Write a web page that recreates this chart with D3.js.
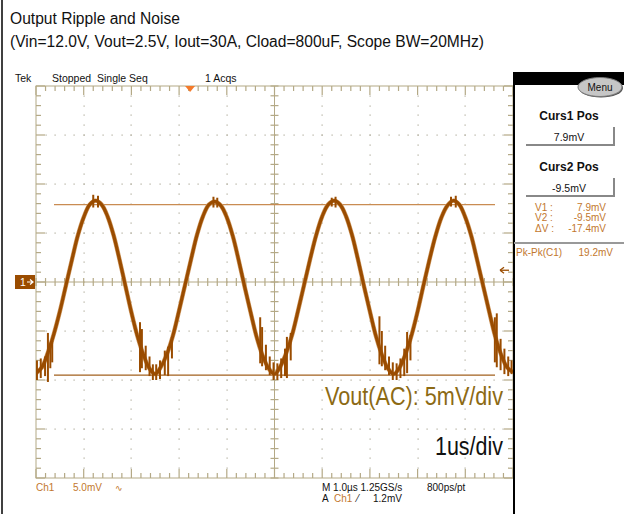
<!DOCTYPE html>
<html>
<head>
<meta charset="utf-8">
<script src="https://cdn.jsdelivr.net/npm/d3@7"></script>
<style>
body { margin: 0; background: #fff; }
svg { display: block; font-family: "Liberation Sans", Arial, sans-serif; }
</style>
</head>
<body>
<div id="chart"></div>
<script>
var titleLines = ["Output Ripple and Noise", "(Vin=12.0V, Vout=2.5V, Iout=30A, Cload=800uF, Scope BW=20MHz)"];
var sampleStepUs = 0.125;   // one sample every 1/8 us, 0..10 us
var rippleMv = [
  -9.3, -8.7, -7.2, -5.3, -3.0, -0.4, 2.2, 4.7, 6.6, 7.9, 8.3, 7.9, 6.7, 4.8, 2.3, -0.4, -3.1, -5.5, -7.4, -8.8,
  -9.4, -8.6, -7.3, -5.4, -2.9, -0.3, 2.3, 4.8, 6.7, 7.9, 8.2, 7.8, 6.6, 4.7, 2.2, -0.5, -3.1, -5.6, -7.5, -8.8,
  -9.4, -8.6, -7.2, -5.3, -2.8, -0.2, 2.4, 4.8, 6.7, 7.9, 8.3, 7.9, 6.7, 4.8, 2.3, -0.4, -3.0, -5.5, -7.4, -8.8,
  -9.4, -8.7, -7.3, -5.4, -3.0, -0.3, 2.3, 4.7, 6.6, 7.8, 8.3, 7.9, 6.6, 4.7, 2.2, -0.4, -3.0, -5.5, -7.4, -8.7,
  -9.2
];
// switching noise spikes: time (us), low / high (mV)
var spikeUs     = [0.02, 0.10, 0.19, 0.25, 0.30, 0.34, 1.20, 1.30, 2.18, 2.22, 2.30, 2.38, 2.45, 2.52, 2.60, 2.70, 2.77, 2.85,
                   3.72, 3.80, 4.70, 4.74, 4.82, 4.90, 4.98, 5.06, 5.14, 5.22, 5.26, 5.34, 6.20, 6.28,
                   7.20, 7.25, 7.32, 7.40, 7.48, 7.56, 7.64, 7.72, 7.78, 7.85, 8.70, 8.80, 9.62, 9.66, 9.74, 9.82, 9.90, 9.97];
var spikeLowMv  = [-10.0, -9.8, -9.6, -10.2, -8.8, -8.2, 7.6, 7.6, -9.2, -8.8, -9.0, -9.6, -10.0, -10.0, -9.9, -9.5, -9.6, -7.8,
                   7.6, 7.6, -8.3, -8.6, -9.0, -9.5, -10.0, -10.0, -9.8, -9.6, -9.8, -8.0, 7.7, 7.6,
                   -8.4, -8.6, -9.0, -9.5, -10.0, -10.0, -9.8, -9.6, -9.3, -8.0, 7.7, 7.6, -8.2, -8.7, -9.0, -9.4, -9.6, -9.4];
var spikeHighMv = [-8.0, -7.8, -7.6, -5.2, -6.2, -6.0, 8.9, 8.8, -4.1, -4.8, -6.5, -7.6, -8.4, -8.4, -8.0, -7.0, -6.6, -5.6,
                   8.7, 8.6, -3.6, -4.6, -6.4, -7.6, -8.2, -8.3, -7.8, -6.8, -5.6, -5.2, 8.6, 8.7,
                   -3.5, -5.0, -6.5, -7.6, -8.2, -8.3, -7.8, -6.8, -5.1, -5.4, 8.7, 8.8, -3.6, -3.2, -5.8, -6.8, -7.6, -8.0];
var cursorMv = [7.9, -9.5];
var cursorNames = ["Curs1 Pos", "Curs2 Pos"];
var cursorTexts = ["7.9mV", "-9.5mV"];
var readoutNames = ["V1 :", "V2 :", "\u0394V :"];
var readoutValues = ["7.9mV", "-9.5mV", "-17.4mV"];
var measureName = "Pk-Pk(C1)", measureValue = "19.2mV";
var triggerMv = 1.2, triggerUs = 3.23;
var timeDivs = 10, voltDivs = 8, mvPerDiv = 5;

// ---- layout ----
var W = 635, H = 514;
var gx0 = 36, gx1 = 513, gy0 = 86, gy1 = 478;
var brown = "#9a4c00", grat = "#b4a986", orange = "#c2772e";

var svg = d3.select("#chart").append("svg").attr("width", W).attr("height", H);
svg.append("rect").attr("width", W).attr("height", H).attr("fill", "#fff");

var x = d3.scaleLinear().domain([0, timeDivs]).range([gx0, gx1]);
var y = d3.scaleLinear().domain([-voltDivs / 2 * mvPerDiv, voltDivs / 2 * mvPerDiv]).range([gy1, gy0]);

// outer frame line on the left
svg.append("line").attr("x1", 2).attr("x2", 2).attr("y1", 0).attr("y2", H).attr("stroke", "#000").attr("stroke-width", 1.5);

// title
svg.selectAll("text.title").data(titleLines).enter().append("text")
    .attr("class", "title")
    .attr("x", 10).attr("y", function (d, i) { return 24 + i * 23; })
    .attr("font-size", 15.6).attr("fill", "#111")
    .text(function (d) { return d; });

// header status
var hdr = svg.append("g").attr("font-size", 10.5).attr("fill", "#111");
hdr.append("text").attr("x", 15).attr("y", 82).text("Tek");
hdr.append("text").attr("x", 52).attr("y", 82).attr("xml:space", "preserve").text("Stopped  Single Seq");
hdr.append("text").attr("x", 205).attr("y", 82).text("1 Acqs");

// ---- graticule ----
var g = svg.append("g");
g.append("rect").attr("x", gx0).attr("y", gy0).attr("width", gx1 - gx0).attr("height", gy1 - gy0)
    .attr("fill", "none").attr("stroke", grat);

var minorT = d3.range(0, timeDivs + 0.001, 0.2);
var minorV = d3.range(-20, 20.001, 1);

// dotted division lines
var dots = [];
d3.range(1, timeDivs).forEach(function (i) {
    if (i === timeDivs / 2) return;
    minorV.forEach(function (v) { if (Math.abs(v) < 20) dots.push([x(i), y(v)]); });
});
[-15, -10, -5, 5, 10, 15].forEach(function (v) {
    minorT.forEach(function (t) { if (t > 0.01 && t < timeDivs - 0.01) dots.push([x(t), y(v)]); });
});
g.selectAll("rect.dot").data(dots).enter().append("rect")
    .attr("class", "dot")
    .attr("x", function (d) { return Math.round(d[0]) - 0.5; })
    .attr("y", function (d) { return Math.round(d[1]) - 0.5; })
    .attr("width", 1.2).attr("height", 1.2).attr("fill", "#b0ab9c");

// centre axes
g.append("line").attr("x1", gx0).attr("x2", gx1).attr("y1", y(0)).attr("y2", y(0)).attr("stroke", grat);
g.append("line").attr("x1", x(5)).attr("x2", x(5)).attr("y1", gy0).attr("y2", gy1).attr("stroke", grat);

function isMajor(v, step) { return Math.abs(v / step - Math.round(v / step)) < 1e-6; }

var ticks = [];
minorT.forEach(function (t) {
    var len = isMajor(t, 1) ? 9 : 5;
    ticks.push([x(t), gy0, x(t), gy0 + len]);
    ticks.push([x(t), gy1, x(t), gy1 - len]);
    ticks.push([x(t), y(0) - 4, x(t), y(0) + 4]);
});
minorV.forEach(function (v) {
    var len = isMajor(v, 5) ? 9 : 5;
    ticks.push([gx0, y(v), gx0 + len, y(v)]);
    ticks.push([gx1, y(v), gx1 - len, y(v)]);
    ticks.push([x(5) - 4, y(v), x(5) + 4, y(v)]);
});
g.selectAll("line.tick").data(ticks).enter().append("line")
    .attr("class", "tick")
    .attr("x1", function (d) { return d[0]; }).attr("y1", function (d) { return d[1]; })
    .attr("x2", function (d) { return d[2]; }).attr("y2", function (d) { return d[3]; })
    .attr("stroke", grat).attr("stroke-width", 1.2);

// ---- cursors ----
var cursorColors = ["#c98c52", "#a2601e"];
svg.selectAll("line.cursor").data(cursorMv).enter().append("line")
    .attr("class", "cursor")
    .attr("x1", 54).attr("x2", 495)
    .attr("y1", function (d) { return y(d); }).attr("y2", function (d) { return y(d); })
    .attr("stroke", function (d, i) { return cursorColors[i]; }).attr("stroke-width", 1.4);

// ---- waveform ----
svg.append("clipPath").attr("id", "clip").append("rect")
    .attr("x", gx0).attr("y", gy0).attr("width", gx1 - gx0).attr("height", gy1 - gy0);
var wave = svg.append("g").attr("clip-path", "url(#clip)");

var line = d3.line()
    .x(function (d, i) { return x(i * sampleStepUs); })
    .y(function (d) { return y(d); })
    .curve(d3.curveCatmullRom);

wave.append("path").datum(rippleMv)
    .attr("d", line).attr("fill", "none")
    .attr("stroke", "#cf9a62").attr("stroke-width", 4.4).attr("stroke-linejoin", "round");
wave.append("path").datum(rippleMv)
    .attr("d", line).attr("fill", "none")
    .attr("stroke", brown).attr("stroke-width", 3.2).attr("stroke-linejoin", "round");

wave.selectAll("line.spike").data(spikeUs).enter().append("line")
    .attr("class", "spike")
    .attr("x1", function (d) { return x(d); }).attr("x2", function (d) { return x(d); })
    .attr("y1", function (d, i) { return y(spikeLowMv[i]); })
    .attr("y2", function (d, i) { return y(spikeHighMv[i]); })
    .attr("stroke", brown).attr("stroke-width", 2);

// trigger position marker (top) and level arrow (right)
svg.append("path")
    .attr("d", "M" + (x(triggerUs) - 5) + "," + gy0 + "L" + (x(triggerUs) + 5) + "," + gy0 + "L" + x(triggerUs) + "," + (gy0 + 6) + "Z")
    .attr("fill", "#f47a2a");
var ty = y(triggerMv);
svg.append("path").attr("d", "M500," + ty + "L509," + ty).attr("stroke", brown).attr("stroke-width", 1.3);
svg.append("path").attr("d", "M500," + ty + "L504," + (ty - 3) + "M500," + ty + "L504," + (ty + 3))
    .attr("stroke", brown).attr("stroke-width", 1.3).attr("fill", "none");

// ground marker
var gm = svg.append("g");
gm.append("rect").attr("x", 15).attr("y", y(0) - 7).attr("width", 20).attr("height", 14).attr("fill", brown);
gm.append("text").attr("x", 20).attr("y", y(0) + 4).attr("font-size", 10.5).attr("fill", "#fff").text("1");
gm.append("path").attr("d", "M27," + y(0) + "L33," + y(0) + "M30," + (y(0) - 2.5) + "L33," + y(0) + "L30," + (y(0) + 2.5))
    .attr("stroke", "#fff").attr("stroke-width", 1.2).attr("fill", "none");

// ---- labels inside graticule ----
svg.append("text").attr("x", 503).attr("y", 405).attr("text-anchor", "end")
    .attr("font-size", 25).attr("fill", "#8c6a14")
    .attr("textLength", 178).attr("lengthAdjust", "spacingAndGlyphs")
    .text("Vout(AC): 5mV/div");
svg.append("text").attr("x", 503).attr("y", 455).attr("text-anchor", "end")
    .attr("font-size", 25).attr("fill", "#111")
    .attr("textLength", 68).attr("lengthAdjust", "spacingAndGlyphs")
    .text("1us/div");

// ---- bottom status ----
var bot = svg.append("g").attr("font-size", 10);
bot.append("text").attr("x", 36).attr("y", 491).attr("fill", orange).text("Ch1");
bot.append("text").attr("x", 73).attr("y", 491).attr("fill", orange).text("5.0mV");
bot.append("text").attr("x", 115).attr("y", 491).attr("fill", orange).attr("font-family", "DejaVu Sans").attr("font-size", 9).text("\u223F");
bot.append("text").attr("x", 322).attr("y", 491).attr("fill", "#111").text("M 1.0\u00B5s 1.25GS/s");
bot.append("text").attr("x", 427).attr("y", 491).attr("fill", "#111").text("800ps/pt");
bot.append("text").attr("x", 322).attr("y", 502).attr("fill", "#111").text("A");
bot.append("text").attr("x", 334).attr("y", 502).attr("fill", orange).text("Ch1");
bot.append("text").attr("x", 357).attr("y", 502).attr("fill", "#111").text("\u2044");
bot.append("text").attr("x", 373).attr("y", 502).attr("fill", "#111").text("1.2mV");

// ---- right side panel ----
svg.append("rect").attr("x", 514).attr("y", 72).attr("width", 110).attr("height", 13).attr("fill", "#000");
svg.append("line").attr("x1", 514).attr("x2", 514).attr("y1", 72).attr("y2", H).attr("stroke", "#000").attr("stroke-width", 2);

svg.append("ellipse").attr("cx", 601).attr("cy", 88).attr("rx", 22).attr("ry", 9.5).attr("fill", "#555");
svg.append("ellipse").attr("cx", 600).attr("cy", 87).attr("rx", 22).attr("ry", 9.5)
    .attr("fill", "#c6c6c6").attr("stroke", "#777").attr("stroke-width", 1);
svg.append("text").attr("x", 600).attr("y", 91).attr("text-anchor", "middle").attr("font-size", 10).attr("fill", "#111").text("Menu");

var panel = svg.append("g");
cursorNames.forEach(function (name, i) {
    var top = 120 + i * 51;
    panel.append("text").attr("x", 569).attr("y", top).attr("text-anchor", "middle")
        .attr("font-size", 12).attr("font-weight", "bold").attr("fill", "#111").text(name);
    panel.append("path").attr("d", "M526," + (top + 25) + "L614," + (top + 25) + "L614," + (top + 7))
        .attr("stroke", "#888").attr("stroke-width", 2).attr("fill", "none");
    panel.append("text").attr("x", 569).attr("y", top + 21).attr("text-anchor", "middle")
        .attr("font-size", 10.5).attr("fill", "#111").text(cursorTexts[i]);
});
readoutNames.forEach(function (name, i) {
    panel.append("text").attr("x", 535).attr("y", 211 + i * 10.3).attr("font-size", 10).attr("fill", orange).text(name);
    panel.append("text").attr("x", 606).attr("y", 211 + i * 10.3).attr("text-anchor", "end")
        .attr("font-size", 10).attr("fill", orange).text(readoutValues[i]);
});
panel.append("line").attr("x1", 514).attr("x2", 624).attr("y1", 243).attr("y2", 243).attr("stroke", "#999").attr("stroke-width", 2);
panel.append("text").attr("x", 516).attr("y", 256).attr("font-size", 10).attr("fill", orange).text(measureName);
panel.append("text").attr("x", 613).attr("y", 256).attr("text-anchor", "end").attr("font-size", 10).attr("fill", orange).text(measureValue);
</script>
</body>
</html>
